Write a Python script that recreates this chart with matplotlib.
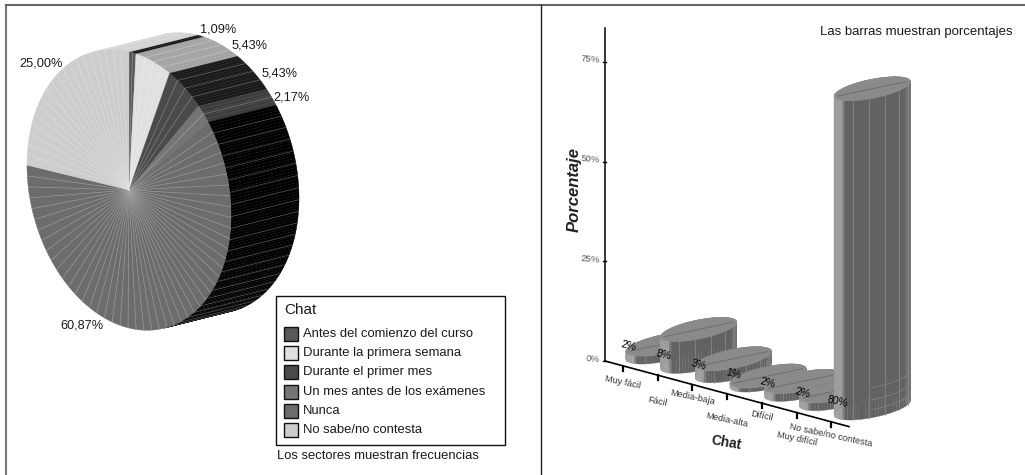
#!/usr/bin/env python3
from __future__ import annotations

import numpy as np
import matplotlib
matplotlib.use("Agg")
import matplotlib.pyplot as plt
from matplotlib.patches import Polygon, Rectangle

plt.rcParams["font.family"] = ["Liberation Sans", "DejaVu Sans"]

# pie data
PIE_LABELS = [
    "Antes del comienzo del curso",
    "Durante la primera semana",
    "Durante el primer mes",
    "Un mes antes de los exámenes",
    "Nunca",
    "No sabe/no contesta",
]
PIE_VALUES = [1.09, 5.43, 5.43, 2.17, 60.87, 25.00]
PIE_TOP = ["#595959", "#e0e0e0", "#4a4a4a", "#757575", "#6c6c6c", "#cdcdcd"]
PIE_SIDE = ["#1c1c1c", "#a3a3a3", "#1a1a1a", "#3e3e3e", "#000000", "#d2d2d2"]

# bar data
BAR_LABELS = ["Muy fácil", "Fácil", "Media-baja", "Media-alta", "Difícil",
              "Muy difícil", "No sabe/no contesta"]
BAR_VALUES = [2, 8, 3, 1, 2, 2, 80]
Y_TICKS = [0, 25, 50, 75]

# pie geometry, in canvas pixels
PIE_C = np.array([129.0, 190.0])
PIE_U = np.array([102.0, 25.0])
PIE_V = np.array([0.0, -138.0])
PIE_D = np.array([68.0, -17.0])
PIE_LABEL_XY = [(218, 29), (250, 46), (280, 73), (292, 97), (82, 325), (41, 63)]

# bar geometry
Y0, PX_PER_PCT = 361.0, 3.99
AX_X0, AX_XN = 605.0, 849.0
TICK_X0, TICK_Y0, TICK_DX, TICK_DY = 623.0, 367.0, 34.7, 9.33
BAR_OFFSET = np.array([41.0, -15.0])
BAR_A = np.array([38.0, -8.0])
BAR_B = np.array([3.0, 9.0])
LABEL_DY = [15, 25, 12, 25, 12, 25, 12]


def pie_pt(theta, radius=1.0):
    return PIE_C + radius * (np.sin(theta) * PIE_U + np.cos(theta) * PIE_V)


def lighter(col, amount):
    rgb = np.array(matplotlib.colors.to_rgb(col))
    return tuple(rgb + (1 - rgb) * amount)


def wall_visible(a, b):
    seg = b - a
    return seg[0] * PIE_D[1] - seg[1] * PIE_D[0] < 0


def draw_frames(ax):
    ax.plot([6, 6], [5, 475], color="#777777", lw=1.5)
    ax.plot([6, 1025], [5, 5], color="#666666", lw=1.5)
    ax.plot([540.5, 540.5], [5, 475], color="#222222", lw=1.0)


def draw_pie(ax):
    edges = np.cumsum([0] + PIE_VALUES) / 100 * 2 * np.pi

    # extruded wall, only the part facing the viewer
    for i in range(len(PIE_VALUES)):
        th = np.linspace(edges[i], edges[i + 1], max(3, int(PIE_VALUES[i] * 3)))
        for t0, t1 in zip(th[:-1], th[1:]):
            a, b = pie_pt(t0), pie_pt(t1)
            if not wall_visible(a, b):
                continue
            ax.add_patch(Polygon([a, b, b + PIE_D, a + PIE_D], closed=True,
                                 fc=PIE_SIDE[i], ec=PIE_SIDE[i], lw=0.3, zorder=2))
        n = max(1, int(round(PIE_VALUES[i] * 3.6 / 5)))
        for t in np.linspace(edges[i], edges[i + 1], n + 1)[1:-1]:
            a = pie_pt(t)
            if not wall_visible(a, pie_pt(t + 0.01)):
                continue
            ax.plot([a[0], a[0] + PIE_D[0]], [a[1], a[1] + PIE_D[1]],
                    color=lighter(PIE_SIDE[i], 0.4), lw=0.4, zorder=3)

    # top face with its fan of radial lines
    for i in range(len(PIE_VALUES)):
        th = np.linspace(edges[i], edges[i + 1], max(3, int(PIE_VALUES[i] * 3)))
        pts = [PIE_C] + [pie_pt(t) for t in th]
        ax.add_patch(Polygon(pts, closed=True, fc=PIE_TOP[i], ec=PIE_TOP[i],
                             lw=0.3, zorder=4))
        n = max(2, int(round(PIE_VALUES[i] * 3.6 / 4.5)))
        for t in np.linspace(edges[i], edges[i + 1], n + 1)[1:-1]:
            a = pie_pt(t)
            ax.plot([PIE_C[0], a[0]], [PIE_C[1], a[1]], lw=0.45, zorder=5,
                    color=lighter(PIE_TOP[i], 0.35))

    for val, (x, y) in zip(PIE_VALUES, PIE_LABEL_XY):
        ax.text(x, y, f"{val:.2f}%".replace(".", ","), ha="center", va="center",
                fontsize=9.2, color="#1a1a1a", zorder=8)


def draw_legend(ax):
    ax.add_patch(Rectangle((275.5, 295.5), 229, 149, fc="white", ec="#111111",
                           lw=1.0, zorder=6))
    ax.text(284, 310, "Chat", fontsize=11, va="center", color="#1a1a1a", zorder=7)
    for i, (lab, col) in enumerate(zip(PIE_LABELS, PIE_TOP)):
        yc = 334 + i * 19.2
        ax.add_patch(Rectangle((284, yc - 7), 14, 14, fc=col, ec="#111111", lw=1.0, zorder=7))
        ax.text(303, yc, lab, fontsize=9.35, va="center", color="#1a1a1a", zorder=7)
    ax.text(277, 456, "Los sectores muestran frecuencias", fontsize=9.4,
            va="center", color="#1a1a1a")


def bar_shade(frac):
    if frac < 0.11:
        return "#9e9e9e"
    if frac < 0.15:
        return "#7c7c7c"
    if frac > 0.94:
        return "#727272"
    return "#626262"


def draw_bar(ax, tick_xy, value, z):
    center = np.asarray(tick_xy) + BAR_OFFSET
    h = value * PX_PER_PCT
    ts = np.linspace(0, 2 * np.pi, 73)
    ring = np.array([center + np.cos(t) * BAR_A + np.sin(t) * BAR_B for t in ts])
    xmin, xmax = ring[:, 0].min(), ring[:, 0].max()
    order = np.argsort(ring[:-1, 1])
    for k in order:
        a, b = ring[k], ring[k + 1]
        frac = ((a[0] + b[0]) / 2 - xmin) / (xmax - xmin)
        col = bar_shade(frac)
        ax.add_patch(Polygon([a, b, b - [0, h], a - [0, h]], closed=True,
                             fc=col, ec=col, lw=0.25, zorder=z))
        # only the front half carries the pale facet lines
        if k % 5 == 0 and np.sin(ts[k]) > 0.05:
            ax.plot([a[0], a[0]], [a[1], a[1] - h], color="#8c8c8c", lw=0.5, zorder=z)
    # faint rings low on the tall bar, right side only
    if h > 100:
        front = ring[(np.sin(ts) > 0) & (np.cos(ts) > -0.1)]
        for lift in (8, 18, 30):
            ax.plot(front[:, 0], front[:, 1] - lift, color="#868686", lw=0.5, zorder=z)
    top = ring - [0, h]
    ax.add_patch(Polygon(top, closed=True, fc="#8a8a8a", ec="#8f8f8f", lw=0.4, zorder=z))
    ax.plot([center[0] - BAR_A[0] * 0.9, center[0] + BAR_A[0] * 0.9],
            [center[1] - h - BAR_A[1] * 0.9, center[1] - h + BAR_A[1] * 0.9],
            color="#6e6e6e", lw=0.7, zorder=z)


def draw_bars(ax):
    # axes
    ax.plot([AX_X0, AX_X0], [28, Y0], color="black", lw=1.1, zorder=2)
    slope = TICK_DY / TICK_DX
    ax.plot([AX_X0, AX_XN], [Y0, Y0 + slope * (AX_XN - AX_X0)], color="black", lw=1.2, zorder=2)
    for v in Y_TICKS:
        y = Y0 - v * PX_PER_PCT
        ax.plot([AX_X0 - 2, AX_X0 + 1], [y, y], color="black", lw=1.0, zorder=2)
        ax.text(AX_X0 - 5, y - 2, f"{v}%", ha="right", va="center", fontsize=6.8,
                color="#555555", rotation=-5)

    for i, (lab, val) in enumerate(zip(BAR_LABELS, BAR_VALUES)):
        tx, ty = TICK_X0 + i * TICK_DX, TICK_Y0 + i * TICK_DY
        ax.plot([tx, tx], [ty - 1, ty + 4], color="black", lw=1.6, zorder=2)
        draw_bar(ax, (tx, ty), val, 3 + i)
        ax.text(tx, ty + LABEL_DY[i], lab, ha="center", va="center", fontsize=6.6,
                color="#333333", rotation=-12, zorder=20)
        ax.text(tx + 6, ty - 21, f"{val}%", ha="center", va="center", fontsize=7.6,
                color="#000000", rotation=-14, zorder=21)

    ax.text(726, 443, "Chat", ha="center", va="center", fontsize=10, weight="bold",
            color="#222222", rotation=-10)
    ax.text(574, 189, "Porcentaje", ha="center", va="center", fontsize=12, weight="bold",
            style="italic", rotation=90, color="#222222")
    ax.text(916, 32, "Las barras muestran porcentajes", ha="center", va="center",
            fontsize=9.5, color="#1a1a1a")


def main() -> None:
    fig = plt.figure(figsize=(10.25, 4.75), dpi=100)
    ax = fig.add_axes([0, 0, 1, 1])
    ax.set_xlim(0, 1025)
    ax.set_ylim(475, 0)
    ax.axis("off")

    draw_frames(ax)
    draw_pie(ax)
    draw_legend(ax)
    draw_bars(ax)

    fig.savefig("out.png", dpi=100)
    plt.close(fig)


if __name__ == "__main__":
    main()
